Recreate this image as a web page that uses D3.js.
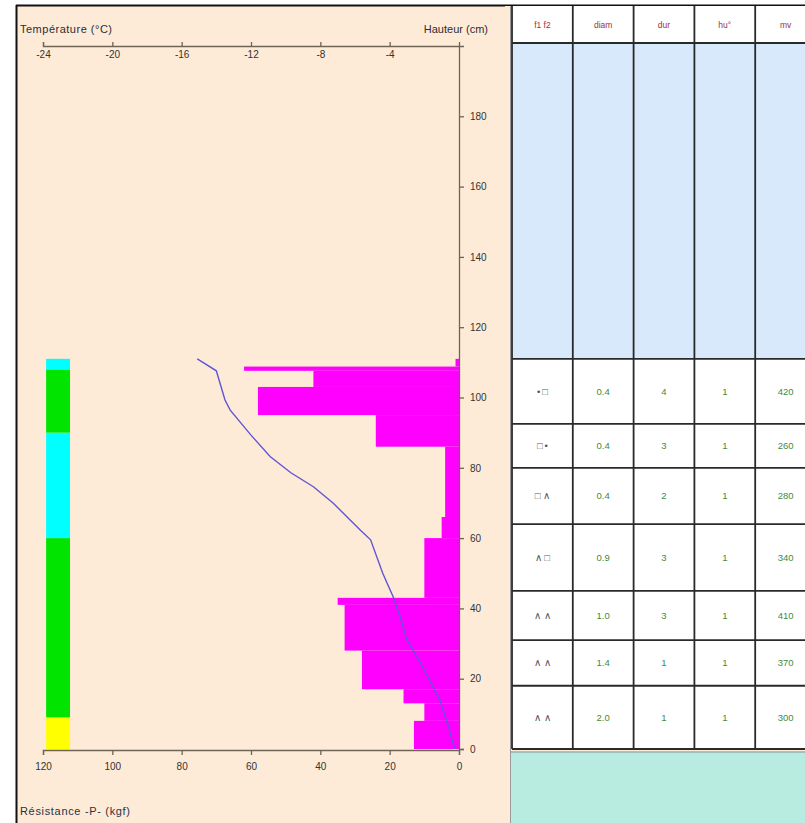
<!DOCTYPE html>
<html>
<head>
<meta charset="utf-8">
<script src="https://cdn.jsdelivr.net/npm/d3@7"></script>
<style>
  html, body { margin: 0; padding: 0; background: #ffffff; }
  svg { display: block; font-family: "Liberation Sans", Arial, sans-serif; }
</style>
</head>
<body>
<svg id="chart" width="805" height="823"></svg>
<script>
// Snow profile: ram resistance layers, temperature profile, grain-type column and layer table.

// Ram resistance layers: boundaries in cm and resistance in kgf per layer
const resBreaks = [0, 8, 13, 17, 28, 41, 43, 60, 66, 86, 95, 103, 107.6, 108.8, 111];
const resValues = [13, 10, 16, 28, 33, 35, 10, 5, 4, 24, 58, 42, 62, 1];

// Temperature profile: height (cm) and temperature (°C)
const tempHeights = [111, 107.6, 99.3, 96.4, 89.3, 83.2, 78.6, 74.6, 69.9, 62.3, 59.5, 50, 43.3, 37.6, 31, 23.4, 13.9, 6.3, 0];
const tempValues  = [-15.1, -14.0, -13.5, -13.2, -12.0, -10.9, -9.7, -8.4, -7.25, -5.7, -5.1, -4.4, -3.8, -3.4, -3.0, -2.1, -1.1, -0.6, -0.25];

// Grain-type column: layer boundaries (cm) and grain class of each layer
const grainBreaks = [0, 9, 60, 90, 108, 111];
const grainClass  = ["depth", "faceted", "rounded", "faceted", "rounded"];

// Axis ticks
const tempTicks = [-24, -20, -16, -12, -8, -4];
const resTicks = [120, 100, 80, 60, 40, 20, 0];
const heightTicks = [0, 20, 40, 60, 80, 100, 120, 140, 160, 180];

// Layer table
const tableHeaders = ["f1 f2", "diam", "dur", "hu°", "mv"];
const rowTops   = [111, 92.5, 80, 64, 45, 31, 18];
const grainSyms = ["•\u2009□", "□\u2009•", "□ ∧", "∧ □", "∧ ∧", "∧ ∧", "∧ ∧"];
const diamVals  = [0.4, 0.4, 0.4, 0.9, 1.0, 1.4, 2.0];
const durVals   = [4, 3, 2, 3, 3, 1, 1];
const humVals   = [1, 1, 1, 1, 1, 1, 1];
const mvVals    = [420, 260, 280, 340, 410, 370, 300];

const svg = d3.select("#chart");

// Scales
const y = d3.scaleLinear().domain([0, 200]).range([749, 46]);
const xRes = d3.scaleLinear().domain([120, 0]).range([43, 459]);
const xTemp = d3.scaleLinear().domain([-24, 0]).range([43, 459]);
const grainColor = d3.scaleOrdinal()
  .domain(["depth", "faceted", "rounded"])
  .range(["#ffff00", "#00e400", "#00ffff"]);

// Panel background and frame
svg.append("rect").attr("x", 17).attr("y", 6).attr("width", 494).attr("height", 817).attr("fill", "#fdebd7");
svg.append("line").attr("x1", 16.5).attr("x2", 16.5).attr("y1", 5).attr("y2", 823).attr("stroke", "#111").attr("stroke-width", 2);
svg.append("line").attr("x1", 16).attr("x2", 805).attr("y1", 5.5).attr("y2", 5.5).attr("stroke", "#111").attr("stroke-width", 2);

// Ram resistance layers
const resLayers = resValues.map((v, i) => ({ lo: resBreaks[i], hi: resBreaks[i + 1], v }));
svg.append("g").selectAll("rect").data(resLayers).join("rect")
  .attr("x", d => xRes(d.v))
  .attr("y", d => y(d.hi))
  .attr("width", d => xRes(0) - xRes(d.v))
  .attr("height", d => y(d.lo) - y(d.hi))
  .attr("fill", "#ff00ff");

// Grain-type column
const grainLayers = grainClass.map((c, i) => ({ lo: grainBreaks[i], hi: grainBreaks[i + 1], c }));
svg.append("g").selectAll("rect").data(grainLayers).join("rect")
  .attr("x", xRes(119.1))
  .attr("y", d => y(d.hi))
  .attr("width", xRes(112.2) - xRes(119.1))
  .attr("height", d => y(d.lo) - y(d.hi))
  .attr("fill", d => grainColor(d.c));

// Temperature profile
const tempPts = tempHeights.map((h, i) => [xTemp(tempValues[i]), y(h)]);
svg.append("path")
  .attr("d", d3.line()(tempPts))
  .attr("fill", "none")
  .attr("stroke", "#5f55d4")
  .attr("stroke-width", 1.4);

// Axes
const axisColor = "#6f6354";
function styleAxis(g) {
  g.selectAll("path, line").attr("stroke", axisColor).attr("stroke-width", 1.3);
  g.selectAll("text").attr("fill", "#333").attr("font-size", 10);
}

svg.append("g").attr("transform", "translate(0,46)")
  .call(d3.axisBottom(xTemp).tickValues(tempTicks).tickSize(-4).tickPadding(5).tickFormat(d => String(d)))
  .call(styleAxis);

svg.append("g").attr("transform", "translate(0,750)")
  .call(d3.axisBottom(xRes).tickValues(resTicks).tickSize(5).tickPadding(8).tickFormat(d => String(d)))
  .call(styleAxis);

svg.append("g").attr("transform", "translate(459,0)")
  .call(d3.axisRight(y).tickValues(heightTicks).tickSize(5).tickPadding(6).tickFormat(d => String(d)))
  .call(styleAxis);

// Axis titles
svg.append("text").attr("x", 20).attr("y", 33).attr("font-size", 11).attr("fill", "#2c2c38")
  .attr("textLength", 92).text("Température (°C)");
svg.append("text").attr("x", 488).attr("y", 33).attr("font-size", 11).attr("fill", "#2c2c38")
  .attr("text-anchor", "end").text("Hauteur (cm)");
svg.append("text").attr("x", 20).attr("y", 815).attr("font-size", 11).attr("fill", "#2c3040")
  .attr("textLength", 110).text("Résistance -P- (kgf)");

// Layer table
const colX = d3.scaleLinear().domain([0, 5]).range([512, 816]);
const tableTop = 6, headerBottom = 43;
const tg = svg.append("g");

tg.append("rect").attr("x", 505).attr("y", 6).attr("width", 300).attr("height", 817).attr("fill", "#fdebd7");
tg.append("rect").attr("x", colX(0)).attr("y", tableTop).attr("width", colX(5) - colX(0)).attr("height", headerBottom - tableTop).attr("fill", "#ffffff");
tg.append("rect").attr("x", colX(0)).attr("y", headerBottom).attr("width", colX(5) - colX(0)).attr("height", y(rowTops[0]) - headerBottom).attr("fill", "#d7e9fb");

const rows = rowTops.map((t, i) => ({
  top: t,
  bottom: i + 1 < rowTops.length ? rowTops[i + 1] : 0,
  cells: [grainSyms[i], diamVals[i].toFixed(1), String(durVals[i]), String(humVals[i]), String(mvVals[i])]
}));

tg.selectAll("rect.row").data(rows).join("rect").attr("class", "row")
  .attr("x", colX(0)).attr("y", d => y(d.top))
  .attr("width", colX(5) - colX(0)).attr("height", d => y(d.bottom) - y(d.top))
  .attr("fill", "#ffffff");

// Bottom pane
tg.append("rect").attr("x", 511).attr("y", 752).attr("width", 294).attr("height", 71).attr("fill", "#b8ece0");
tg.append("line").attr("x1", 511).attr("x2", 805).attr("y1", 752).attr("y2", 752).attr("stroke", "#9aaeb0").attr("stroke-width", 1.5);

// Grid lines
const gridColor = "#2a2a2a";
const hLines = [headerBottom].concat(rowTops.map(t => y(t)), [y(0)]);
tg.selectAll("line.h").data(hLines).join("line").attr("class", "h")
  .attr("x1", colX(0)).attr("x2", colX(5)).attr("y1", d => d).attr("y2", d => d)
  .attr("stroke", gridColor).attr("stroke-width", 1.8);
tg.selectAll("line.v").data(d3.range(0, 5)).join("line").attr("class", "v")
  .attr("x1", d => colX(d)).attr("x2", d => colX(d)).attr("y1", tableTop).attr("y2", y(0))
  .attr("stroke", gridColor).attr("stroke-width", 1.8);
tg.append("line").attr("x1", colX(0) - 1.5).attr("x2", colX(0) - 1.5).attr("y1", tableTop).attr("y2", 823)
  .attr("stroke", "#9a9a9a").attr("stroke-width", 1);

// Header labels
tg.selectAll("text.hdr").data(tableHeaders).join("text").attr("class", "hdr")
  .attr("x", (d, i) => (colX(i) + colX(i + 1)) / 2)
  .attr("y", (tableTop + headerBottom) / 2 + 3)
  .attr("text-anchor", "middle").attr("font-size", 8.5).attr("fill", "#a33040")
  .text(d => d);

// Cell values
rows.forEach(r => {
  const cy = (y(r.top) + y(r.bottom)) / 2 + 3.5;
  tg.selectAll(null).data(r.cells).join("text")
    .attr("x", (d, i) => (colX(i) + colX(i + 1)) / 2)
    .attr("y", cy)
    .attr("text-anchor", "middle")
    .attr("font-size", 9.5)
    .attr("fill", (d, i) => i === 0 ? "#555555" : "#3f8a3f")
    .text(d => d);
});
</script>
</body>
</html>
